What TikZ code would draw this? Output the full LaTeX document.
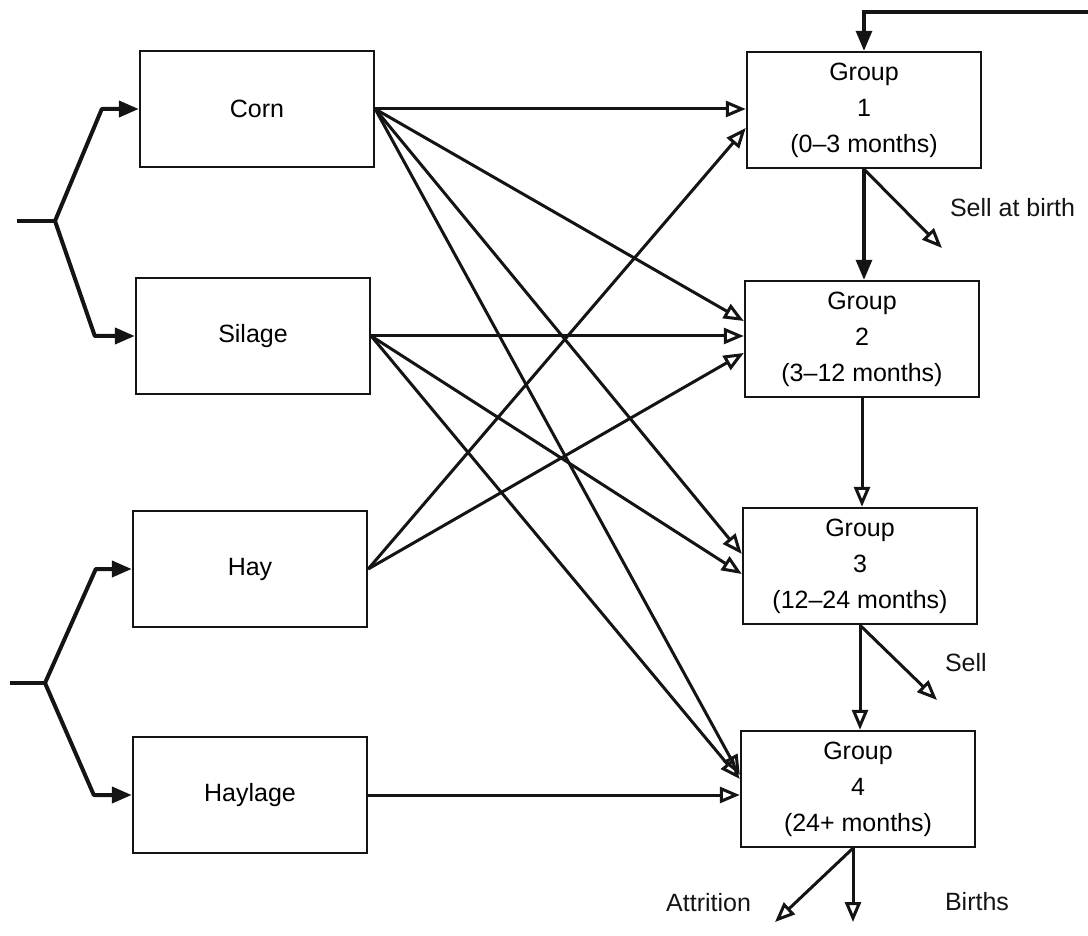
\documentclass[tikz,border=0pt]{standalone}
\usepackage{fontspec}
\setmainfont{Liberation Sans}
\usetikzlibrary{arrows.meta,positioning,calc}
\definecolor{ink}{RGB}{20,20,20}
\tikzset{
  >={Triangle[length=10pt,width=8pt]},
  box/.style={draw=ink,line width=1.2pt,minimum width=117pt,minimum height=58pt,
    inner sep=0pt,align=center,font=\fontsize{12.5}{18}\selectfont},
  flow/.style={line width=1.5pt,draw=ink,-{Triangle[open,length=10pt,width=8pt]}},
  solid flow/.style={line width=1.6pt,draw=ink,->},
  fork/.style={line width=2pt,draw=ink,line join=round,->},
  tag/.style={font=\fontsize{12.5}{14}\selectfont,text=ink},
}

\begin{document}
\begin{tikzpicture}[x=0.5pt,y=-0.5pt]
  \useasboundingbox (0,0) rectangle (1088,936);
  % feeds
  \node[box] (corn) at (257,109) {Corn};
  \node[box] (silage) at (253,336) {Silage};
  \node[box] (hay) at (250,569) {Hay};
  \node[box] (haylage) at (250,795) {Haylage};
  % herd groups
  \node[box] (g1) at (864,110) {Group\\1\\(0--3 months)};
  \node[box] (g2) at (862,339) {Group\\2\\(3--12 months)};
  \node[box] (g3) at (860,566) {Group\\3\\(12--24 months)};
  \node[box] (g4) at (858,789) {Group\\4\\(24+ months)};

  % forks on the left
  \coordinate (in1) at (17,221);
  \coordinate (j1) at (55,221);
  \coordinate (in2) at (10,683);
  \coordinate (j2) at (45,683);
  \draw[line width=2pt,draw=ink] (in1) -- (j1);
  \draw[fork] (j1) -- ([xshift=-18.5pt]corn.west) -- (corn.west);
  \draw[fork] (j1) -- ([xshift=-20pt]silage.west) -- (silage.west);
  \draw[line width=2pt,draw=ink] (in2) -- (j2);
  \draw[fork] (j2) -- ([xshift=-18pt]hay.west) -- (hay.west);
  \draw[fork] (j2) -- ([xshift=-19pt]haylage.west) -- (haylage.west);

  % feed to groups
  \draw[flow] (corn.east) -- (corn.east -| g1.west);
  \draw[flow] (corn.east) -- ([yshift=9pt]g2.west);
  \draw[flow] (corn.east) -- ([yshift=6pt]g3.west);
  \draw[flow] (corn.east) -- ([yshift=7pt]g4.west);
  \draw[flow] (silage.east) -- (silage.east -| g2.west);
  \draw[flow] (silage.east) -- ([yshift=-4pt]g3.west);
  \draw[flow] (silage.east) -- ([yshift=5pt]g4.west);
  \draw[flow] (hay.east) -- ([yshift=-9pt]g1.west);
  \draw[flow] (hay.east) -- ([yshift=-7pt]g2.west);
  \draw[flow] (haylage.east) -- (haylage.east -| g4.west);

  % herd flow
  \coordinate (back) at (1088,12);
  \draw[solid flow] (back) -| (g1.north);
  \draw[solid flow] (g1.south) -- (g1.south |- g2.north);
  \draw[flow] (g2.south) -- (g2.south |- g3.north);
  \draw[flow] (g3.south) -- (g3.south |- g4.north);
  \coordinate (sab) at (942,248);
  \coordinate (sl) at (937,700);
  \coordinate (att) at (775,922);
  \coordinate (bir) at (853,922);
  \draw[flow] (g1.south) -- (sab);
  \draw[flow] (g3.south) -- (sl);
  \draw[flow] ([xshift=-2.5pt]g4.south) -- (att);
  \draw[flow] ([xshift=-2.5pt]g4.south) -- (bir);
  \node[tag,anchor=west] (tsab) at (943,208) {Sell at birth};
  \node[tag,anchor=west] (tsl) at (938,663) {Sell};
  \node[tag,anchor=east] (tatt) at (758,903) {Attrition};
  \node[tag,anchor=west] (tbir) at (938,902) {Births};
\end{tikzpicture}
\end{document}
